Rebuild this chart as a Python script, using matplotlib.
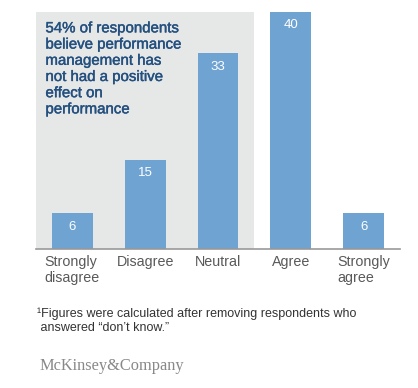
import numpy as np
import matplotlib.pyplot as plt
import matplotlib.patheffects as pe

plt.rcParams['font.family'] = ['Liberation Sans', 'DejaVu Sans']

categories = ['Strongly\ndisagree', 'Disagree', 'Neutral', 'Agree', 'Strongly\nagree']
values = [6, 15, 33, 40, 6]
note = ('54% of respondents\nbelieve performance\nmanagement has\n'
        'not had a positive\neffect on\nperformance')
footnote = '\u00b9Figures were calculated after removing respondents who\n answered \u201cdon\u2019t know.\u201d'

W, H = 418, 388
fig = plt.figure(figsize=(W / 100, H / 100), dpi=100)
ax = fig.add_axes([36 / W, (H - 249) / H, (400 - 36) / W, (249 - 12) / H])

x = np.arange(len(values))
ax.axvspan(-0.5, 2.5, color='#e6e7e7', zorder=0, lw=0)
bars = ax.bar(x, values, width=0.56, color='#6fa3d2', zorder=2)
for xi, v in zip(x, values):
    ax.annotate(str(v), (xi, v), xytext=(0, -9.5), textcoords='offset points',
                ha='center', va='center', color='white', fontsize=9.5)

ax.text(-0.37, 30.4, note, ha='left', va='center', color='#24507f',
        fontsize=10.8, linespacing=1.2,
        path_effects=[pe.withStroke(linewidth=0.3, foreground='#24507f')])

ax.set_xlim(-0.5, 4.5)
ax.set_ylim(0, 40)
ax.set_yticks([])
ax.set_xticks(x)
ax.set_xticklabels(categories, fontsize=10.3, color='#595959', linespacing=1.18,
                   multialignment='left', va='top')
ax.tick_params(axis='x', length=0, pad=4.5)
for s in ['top', 'right', 'left']:
    ax.spines[s].set_visible(False)
ax.spines['bottom'].set_color('#999999')
ax.spines['bottom'].set_linewidth(1.2)
ax.patch.set_alpha(0)

fig.text(37 / W, 1 - 308 / H, footnote, ha='left', va='top', fontsize=9.0,
         color='#333333', linespacing=1.2)
fig.text(40 / W, 1 - 366 / H, 'McKinsey&Company', ha='left', va='center',
         fontsize=11.8, color='#888888', family='Liberation Serif')

fig.savefig('out.png', dpi=100)
